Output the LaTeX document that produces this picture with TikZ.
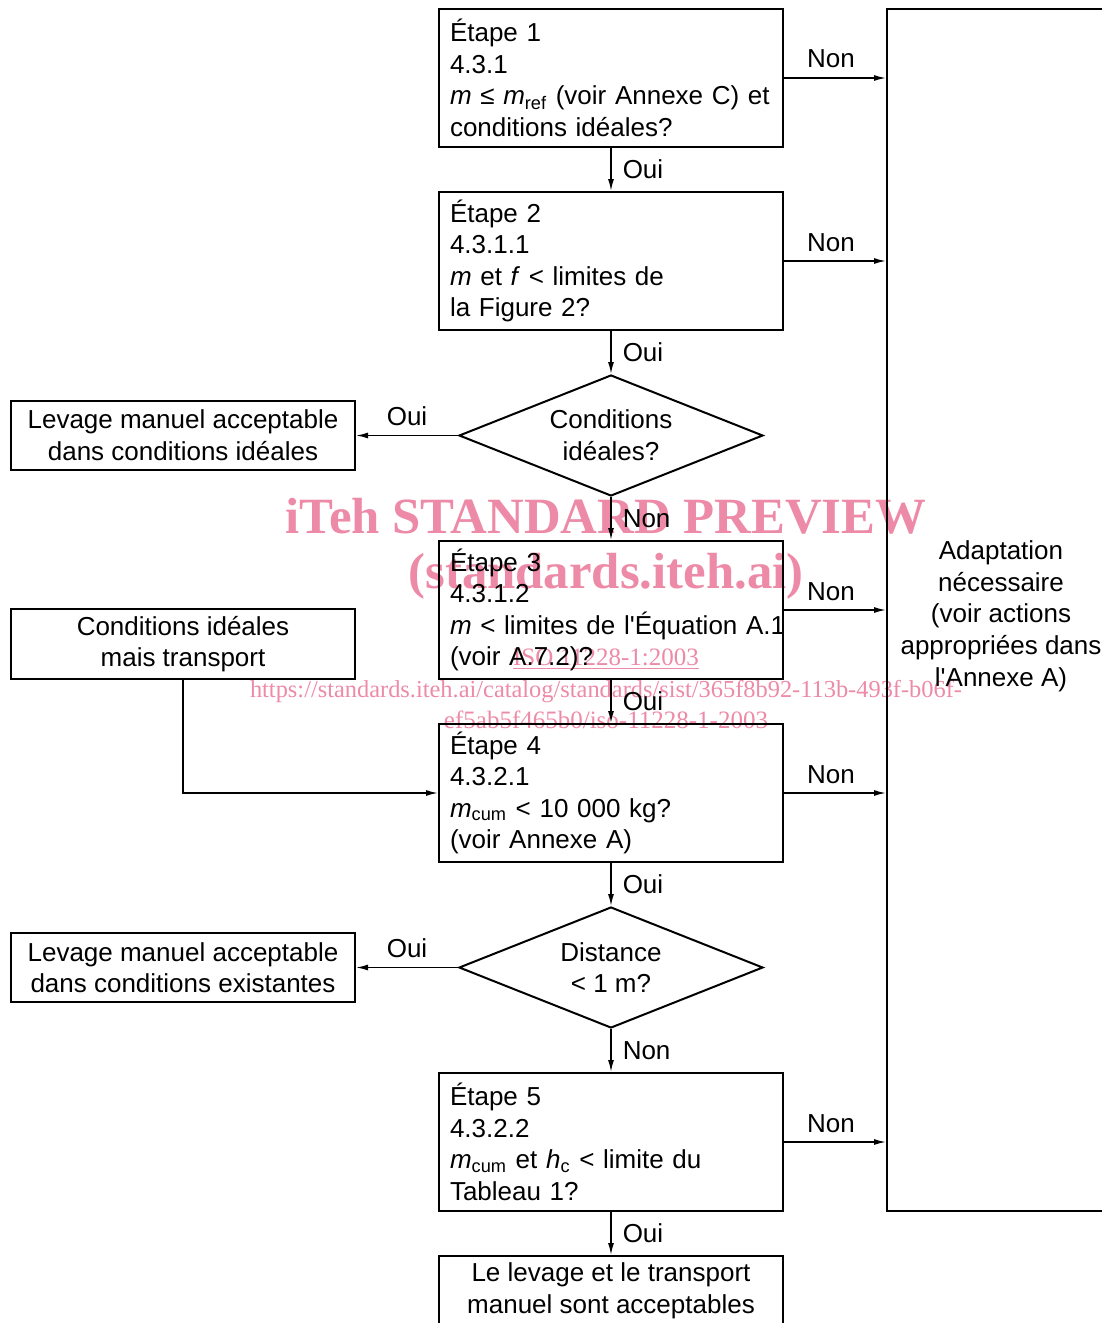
\documentclass[tikz,border=0pt]{standalone}
\usepackage{fontspec}
\setmainfont{Liberation Sans}
\newfontfamily\wmfont{Liberation Serif}
\usetikzlibrary{positioning, shapes.geometric, arrows.meta}

\definecolor{wmpink}{RGB}{237,138,168}

\tikzstyle{stepbox} = [rectangle, minimum width = 172pt, minimum height = 69pt, text width = 161pt, inner xsep = 5.5pt, align = left, draw = black, line width = 1pt]
\tikzstyle{resultbox} = [rectangle, minimum width = 172pt, minimum height = 34.5pt, align = center, draw = black, line width = 1pt]
\tikzstyle{decision} = [diamond, aspect = 2.5, minimum width = 152pt, minimum height = 60.5pt, inner sep = 0pt, align = center, draw = black, line width = 1pt]
\tikzstyle{arrow} = [line width = 0.75pt, -{Latex[length = 6pt, width = 3pt]}]
\tikzstyle{answer} = [inner sep = 4.5pt]
\tikzstyle{watermark} = [text = wmpink, anchor = base, inner sep = 0pt, font = \wmfont]

\begin{document}
\begin{tikzpicture}[x = 0.5pt, y = -0.5pt, node distance = 21.5pt, font = \fontsize{13}{15.8}\selectfont]

    \clip (0,0) rectangle (1102,1323);

    \node(wmtitle)[watermark, font = \wmfont\bfseries\fontsize{25.4}{30}\selectfont] at (606,533) {iTeh STANDARD PREVIEW};
    \node(wmsite)[watermark, font = \wmfont\bfseries\fontsize{25.4}{30}\selectfont] at (606,588) {(standards.iteh.ai)};
    \node(wmiso)[watermark, font = \wmfont\fontsize{12.5}{15}\selectfont] at (606,665) {\underline{ISO 11228-1:2003}};
    \node(wmurl)[watermark, font = \wmfont\fontsize{12.2}{15}\selectfont] at (606,697) {https://standards.iteh.ai/catalog/standards/sist/365f8b92-113b-493f-b06f-};
    \node(wmtail)[watermark, font = \wmfont\fontsize{12.5}{15}\selectfont] at (606,728) {ef5ab5f465b0/iso-11228-1-2003};

    \node(step1)[stepbox] at (611,78) {Étape 1\\4.3.1\\\mbox{\textit{m} ≤ \textit{m}\textsubscript{ref} (voir Annexe C) et}\\conditions idéales?};
    \node(step2)[stepbox, below = of step1] {Étape 2\\4.3.1.1\\\textit{m} et \textit{f} < limites de\\la Figure 2?};
    \node(ideal)[decision, below = of step2] {Conditions\\idéales?};
    \node(step3)[stepbox, below = of ideal] {Étape 3\\4.3.1.2\\\mbox{\textit{m} < limites de l\textquotesingle Équation A.1}\\(voir A.7.2)?};
    \node(step4)[stepbox, below = of step3] {Étape 4\\4.3.2.1\\\textit{m}\textsubscript{cum} < 10 000 kg?\\(voir Annexe A)};
    \node(distance)[decision, below = of step4] {Distance\\< 1 m?};
    \node(step5)[stepbox, below = of distance] {Étape 5\\4.3.2.2\\\textit{m}\textsubscript{cum} et \textit{h}\textsubscript{c} < limite du\\Tableau 1?};
    \node(accepted)[resultbox, below = of step5] {Le levage et le transport\\manuel sont acceptables};

    \node(idealok)[resultbox, left = 51pt of ideal] {Levage manuel acceptable\\dans conditions idéales};
    \node(existok)[resultbox, left = 51pt of distance] {Levage manuel acceptable\\dans conditions existantes};
    \node(transport)[resultbox] at (183,644) {Conditions idéales\\mais transport};
    \node(adapt)[rectangle, draw = black, line width = 1pt, minimum width = 114pt, minimum height = 601pt, align = center] at (1001,610) {\rule{0pt}{15.5pt}Adaptation\\nécessaire\\(voir actions\\appropriées dans\\l\textquotesingle Annexe A)};

    \draw[arrow](step1) -- node[answer, right, xshift = 1pt] {Oui} (step2);
    \draw[arrow](step2) -- node[answer, right, xshift = 1pt] {Oui} (ideal);
    \draw[arrow](ideal) -- node[answer, right, xshift = 1pt] {Non} (step3);
    \draw[arrow](step3) -- node[answer, right, xshift = 1pt] {Oui} (step4);
    \draw[arrow](step4) -- node[answer, right, xshift = 1pt] {Oui} (distance);
    \draw[arrow](distance) -- node[answer, right, xshift = 1pt] {Non} (step5);
    \draw[arrow](step5) -- node[answer, right, xshift = 1pt] {Oui} (accepted);

    \draw[arrow](ideal) -- node[answer, above] {Oui} (idealok);
    \draw[arrow](distance) -- node[answer, above] {Oui} (existok);
    \draw[arrow](transport) |- (step4);

    \draw[arrow](step1.east) -- node[answer, above, xshift = -2pt] {Non} (step1.east -| adapt.west);
    \draw[arrow](step2.east) -- node[answer, above, xshift = -2pt] {Non} (step2.east -| adapt.west);
    \draw[arrow](step3.east) -- node[answer, above, xshift = -2pt] {Non} (step3.east -| adapt.west);
    \draw[arrow](step4.east) -- node[answer, above, xshift = -2pt] {Non} (step4.east -| adapt.west);
    \draw[arrow](step5.east) -- node[answer, above, xshift = -2pt] {Non} (step5.east -| adapt.west);

\end{tikzpicture}
\end{document}
